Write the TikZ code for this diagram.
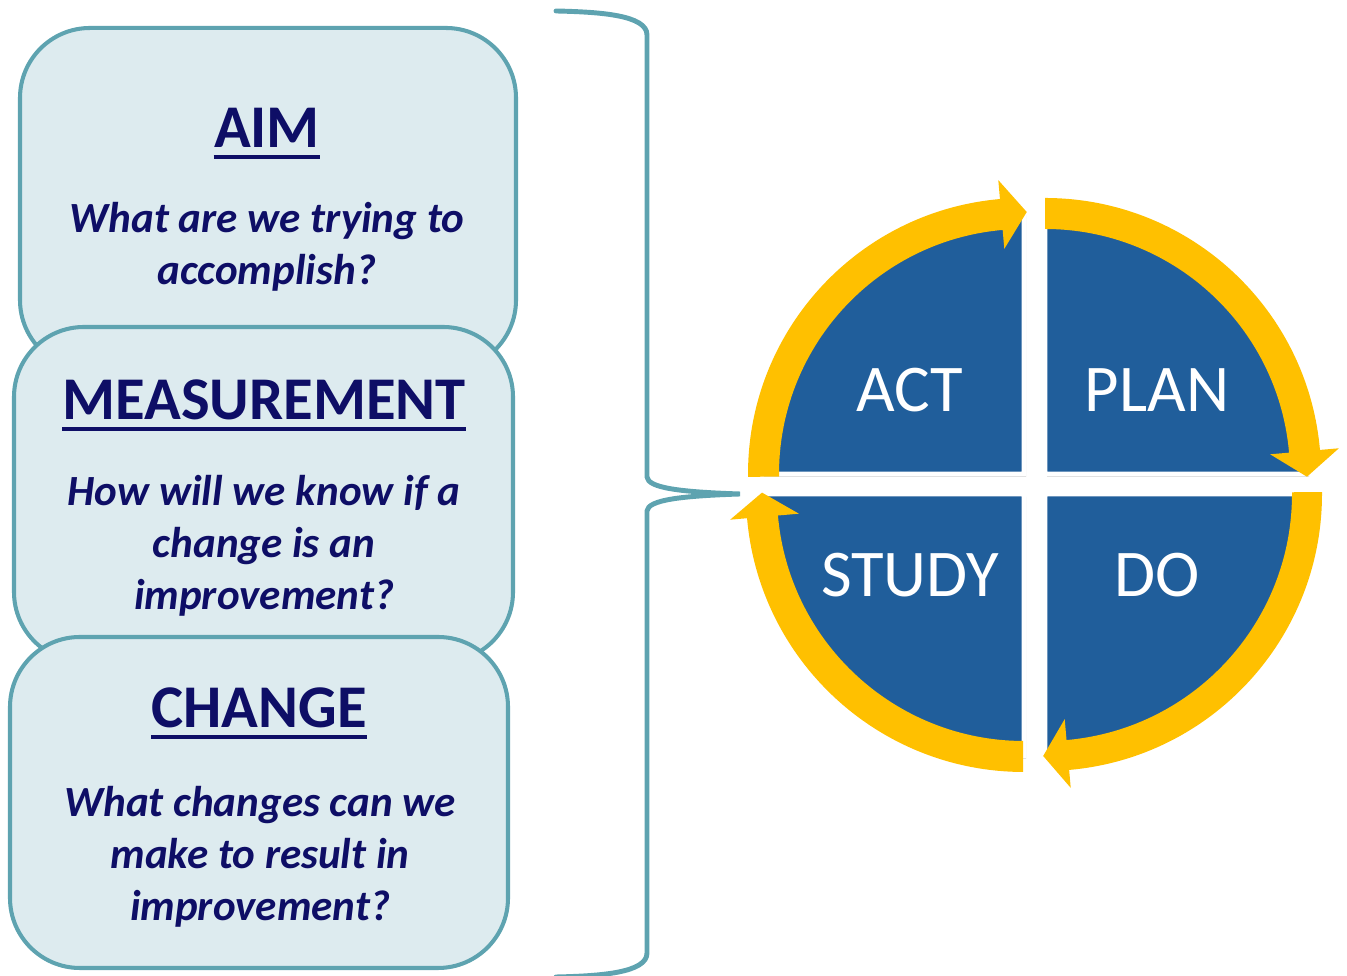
\documentclass[tikz,border=0pt]{standalone}
\usepackage{fontspec}
\setmainfont{Carlito}

\definecolor{cardfill}{HTML}{DDEBEF}
\definecolor{cardline}{HTML}{5EA3B0}
\definecolor{navytext}{HTML}{0E0E66}
\definecolor{pdsablue}{HTML}{205E9B}
\definecolor{pdsagold}{HTML}{FFC000}

\begin{document}
\begin{tikzpicture}[x=0.2mm, y=0.2mm]
    \tikzset{
        card/.style={draw=cardline, fill=cardfill, line width=2.3pt, rounded corners=1.4cm},
        heading/.style={text=navytext, font=\bfseries\fontsize{34.5}{41}\selectfont, inner sep=0pt, anchor=base},
        underbar/.style={draw=navytext, line width=2.2pt},
        question/.style={text=navytext, font=\bfseries\itshape\fontsize{24.5}{29.5}\selectfont, align=center},
        quarter/.style={fill=pdsablue, draw=white, line width=2.8pt},
        dropshadow/.style={fill=black, opacity=0.18},
        sweep/.style={fill=pdsagold},
        stage/.style={text=white, font=\fontsize{38}{46}\selectfont},
        bracket/.style={draw=cardline, line width=2.8pt, line cap=round}
    }
    \useasboundingbox (0,0) rectangle (1347,976);

    % question cards, stacked top to bottom
    \node[card, minimum width=9.92cm, minimum height=6.84cm] (aimcard) at (268,777) {};
    \node[card, minimum width=9.98cm, minimum height=6.70cm] (meascard) at (263.5,481.5) {};
    \node[card, minimum width=9.96cm, minimum height=6.62cm] (changecard) at (259,173.5) {};

    % headings
    \node[heading] (aim) at (267,828) {AIM};
    \node[heading] (meas) at (264,556) {MEASUREMENT};
    \node[heading] (change) at (259,248) {CHANGE};
    \draw[underbar] ([yshift=-5pt]aim.base west) -- ([yshift=-5pt]aim.base east);
    \draw[underbar] ([yshift=-5pt]meas.base west) -- ([yshift=-5pt]meas.base east);
    \draw[underbar] ([yshift=-5pt]change.base west) -- ([yshift=-5pt]change.base east);

    % questions
    \node[question] (aimq) at (267,729) {What are we trying to\\accomplish?};
    \node[question] (measq) at (264,430) {How will we know if a\\change is an\\improvement?};
    \node[question] (changeq) at (260,119) {What changes can we\\make to result in\\improvement?};

    % bracket
    \draw[bracket] (556,965) .. controls (600,964) and (647,961) .. (647,941)
        -- (647,499) .. controls (648,488) and (680,484) .. (740,482)
        .. controls (680,480) and (648,476) .. (647,465)
        -- (647,23) .. controls (647,3) and (600,0) .. (556,-1);

    % ACT
    \begin{scope}[shift={(1024,502)}]
        \fill[dropshadow] (2,-3) -- ++(-262,0) arc[start angle=180, end angle=90, radius=262] -- cycle;
        \path[quarter] (0,0) -- (-262,0) arc[start angle=180, end angle=90, radius=262] -- cycle;
        \fill[sweep] (180.6:276) arc[start angle=180.6, end angle=95, radius=276]
            -- (95:295) -- (89.4:262) -- (95:226) -- (95:245)
            arc[start angle=95, end angle=180.6, radius=245] -- cycle;
    \end{scope}
    % PLAN
    \begin{scope}[shift={(1045,502)}]
        \fill[dropshadow] (2,-3) -- ++(0,262) arc[start angle=90, end angle=0, radius=262] -- cycle;
        \path[quarter] (0,0) -- (0,262) arc[start angle=90, end angle=0, radius=262] -- cycle;
        \fill[sweep] (90:276) arc[start angle=90, end angle=5, radius=276]
            -- (5:295) -- (-0.6:262) -- (5:226) -- (5:245)
            arc[start angle=5, end angle=90, radius=245] -- cycle;
    \end{scope}
    % DO
    \begin{scope}[shift={(1045,482)}]
        \fill[dropshadow] (2,-3) -- ++(262,0) arc[start angle=0, end angle=-90, radius=262] -- cycle;
        \path[quarter] (0,0) -- (262,0) arc[start angle=0, end angle=-90, radius=262] -- cycle;
        \fill[sweep] (0.4:277) arc[start angle=0.4, end angle=-85, radius=277]
            -- (-85:295) -- (-90.4:262) -- (-85:226) -- (-85:247)
            arc[start angle=-85, end angle=0.4, radius=247] -- cycle;
    \end{scope}
    % STUDY
    \begin{scope}[shift={(1024,482)}]
        \fill[dropshadow] (2,-3) -- ++(0,-262) arc[start angle=-90, end angle=-180, radius=262] -- cycle;
        \path[quarter] (0,0) -- (0,-262) arc[start angle=-90, end angle=-180, radius=262] -- cycle;
        \fill[sweep] (-90.2:278) arc[start angle=-90.2, end angle=-175, radius=278]
            -- (-175:295) -- (-180.3:262) -- (-175:226) -- (-175:247)
            arc[start angle=-175, end angle=-90.2, radius=247] -- cycle;
    \end{scope}

    % stage labels
    \node[stage] (act) at (910,586) {ACT};
    \node[stage] (plan) at (1157,586) {PLAN};
    \node[stage] (study) at (910,401) {STUDY};
    \node[stage] (do) at (1157,401) {DO};
\end{tikzpicture}
\end{document}
